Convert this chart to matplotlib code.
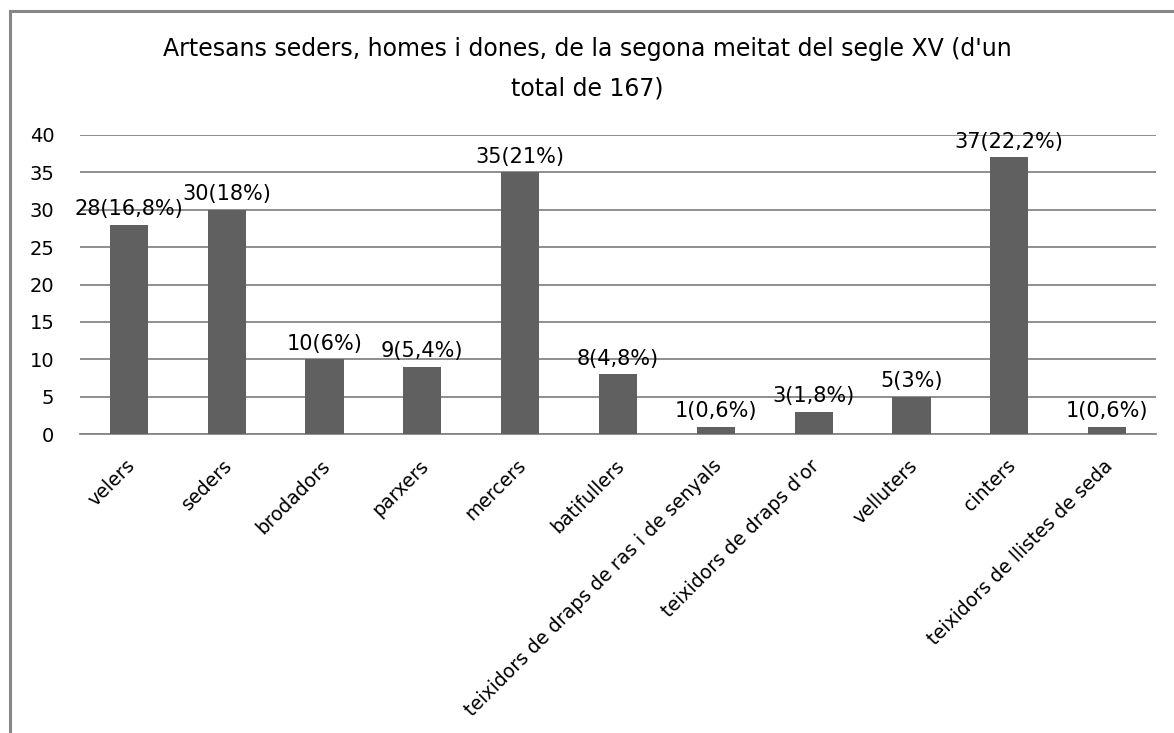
import matplotlib
matplotlib.use("Agg")
import matplotlib.pyplot as plt
from matplotlib.lines import Line2D
import matplotlib.transforms as mtransforms

categories = ["velers", "seders", "brodadors", "parxers", "mercers", "batifullers",
              "teixidors de draps de ras i de senyals", "teixidors de draps d'or",
              "velluters", "cinters", "teixidors de llistes de seda"]
values = [28, 30, 10, 9, 35, 8, 1, 3, 5, 37, 1]
labels = ["28(16,8%)", "30(18%)", "10(6%)", "9(5,4%)", "35(21%)", "8(4,8%)",
          "1(0,6%)", "3(1,8%)", "5(3%)", "37(22,2%)", "1(0,6%)"]
title = "Artesans seders, homes i dones, de la segona meitat del segle XV (d'un\ntotal de 167)"

plt.rcParams['font.family'] = ['DejaVu Sans']

W, H = 1174, 733
fig = plt.figure(figsize=(W/100, H/100), dpi=100)
ax = fig.add_axes([80/W, 1-434/H, (1156-80)/W, (434-135)/H])

x = list(range(len(categories)))
ax.bar(x, values, width=0.39, color="#606060", zorder=3)
ax.set_xlim(-0.5, len(categories)-0.5)
ax.set_ylim(0, 40)
ax.set_yticks(range(0, 41, 5))
ax.yaxis.grid(True, color="#868686", linewidth=1.3, zorder=0)
ax.set_axisbelow(True)
for s in ["left", "right", "top"]:
    ax.spines[s].set_visible(False)
ax.spines["bottom"].set_color("#868686")
ax.spines["bottom"].set_linewidth(1.3)
ax.tick_params(axis="y", length=0, pad=18.5, labelsize=14, labelcolor="#000000")
ax.tick_params(axis="x", length=0)

ax.set_xticks(x)
ax.set_xticklabels(categories, rotation=45, ha="right", va="center",
                   rotation_mode="anchor", fontsize=13.6)
offset = mtransforms.ScaledTranslation(3/100, -24/100, fig.dpi_scale_trans)
for t in ax.get_xticklabels():
    t.set_transform(t.get_transform() + offset)

for xi, v, lab in zip(x, values, labels):
    ax.annotate(lab, (xi, v), xytext=(0, 4), textcoords="offset points",
                ha="center", va="bottom", fontsize=15, zorder=4)

fig.text(587/W, 1-69/H, title, ha="center", va="center", fontsize=17,
         linespacing=1.8)

# chart area border (top and left visible)
fig.add_artist(Line2D([10/W, 10/W], [0, 1-11/H], transform=fig.transFigure,
                      color="#868686", linewidth=2.2))
fig.add_artist(Line2D([10/W, 1], [1-11/H, 1-11/H], transform=fig.transFigure,
                      color="#868686", linewidth=2.2))

fig.savefig("out.png", dpi=100, facecolor="white")
